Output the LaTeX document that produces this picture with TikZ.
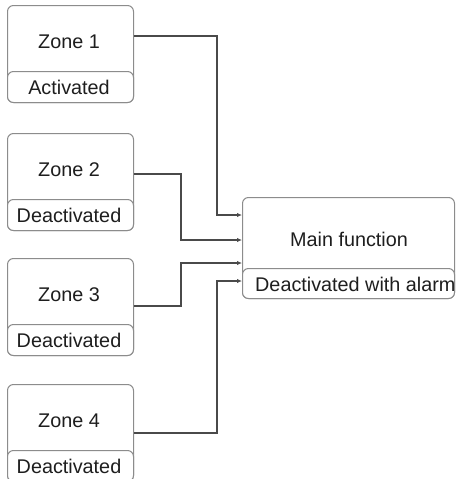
\documentclass[tikz,border=0pt]{standalone}
\usepackage{fontspec}
\setmainfont{Liberation Sans}
\usetikzlibrary{arrows.meta}
\definecolor{boxgray}{HTML}{8C8C8C}
\definecolor{linegray}{HTML}{4A4A4A}
\definecolor{txt}{HTML}{1E1E1E}
\begin{document}
\begin{tikzpicture}[x=1pt,y=-1pt,
  outerbox/.style={draw=boxgray, line width=1pt, rounded corners=6pt, fill=white, inner sep=0pt, anchor=north west},
  statebox/.style={draw=boxgray, line width=1pt, rounded corners=6pt, fill=white, inner sep=0pt, anchor=south west},
  conn/.style={draw=linegray, line width=1.1pt, -{Latex[length=5pt,width=4.5pt]}},
  lbl/.style={font=\fontsize{19.8}{22}\selectfont, text=txt, inner sep=0pt}]
\useasboundingbox (0,0) rectangle (455,479);

% zones
\foreach \i/\t/\s in {1/5/Activated, 2/133/Deactivated, 3/258/Deactivated, 4/384/Deactivated}{
  \node[outerbox, minimum width=126pt, minimum height=97pt] (z\i) at (7,\t) {};
  \node[statebox, minimum width=126pt, minimum height=31pt] (s\i) at (z\i.south west) {};
  \node[lbl] (zl\i) at (69,\t+37) {Zone \i};
  \node[lbl] (sl\i) at (69,\t+82) {\s};
}

% main function
\node[outerbox, minimum width=212pt, minimum height=101pt] (m) at (242,197) {};
\node[statebox, minimum width=212pt, minimum height=30pt] (ms) at (m.south west) {};
\node[lbl] (ml) at (349,239) {Main function};
\node[lbl, anchor=west] (msl) at (255,284) {Deactivated with alarm};

% connectors
\draw[conn] (z1.east |- 0,36) -| (217,215) -- (m.west |- 0,215);
\draw[conn] (z2.east |- 0,174) -| (181,240) -- (m.west |- 0,240);
\draw[conn] (z3.east |- 0,306) -| (181,263) -- (m.west |- 0,263);
\draw[conn] (z4.east |- 0,433) -| (217,281) -- (m.west |- 0,281);
\end{tikzpicture}
\end{document}
